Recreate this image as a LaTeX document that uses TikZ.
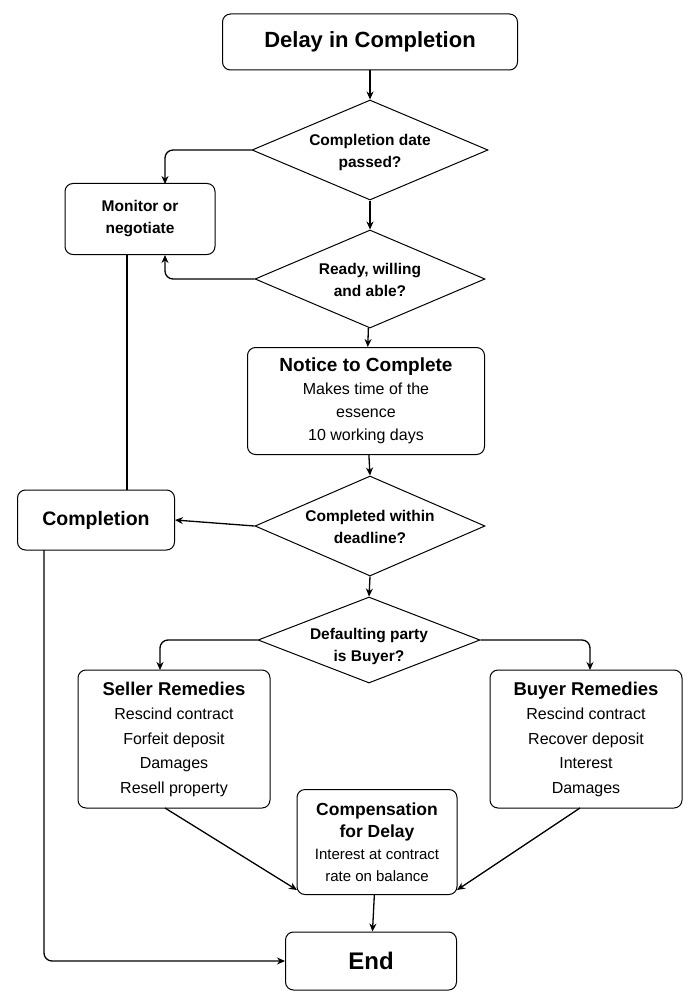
\documentclass[tikz,border=0pt]{standalone}
\usepackage{fontspec}
\setmainfont{Liberation Sans}
\usetikzlibrary{shapes.geometric,arrows.meta}
\begin{document}
\begin{tikzpicture}[x=1pt,y=-1pt,
 box/.style={draw,line width=1pt,rounded corners=8pt,align=center,inner sep=0pt},
 arr/.style={line width=1.3pt,-{Stealth[length=8pt,width=7pt]},rounded corners=8pt},
 ln/.style={line width=1.3pt,rounded corners=8pt}]
\useasboundingbox (0,0) rectangle (695,1008);
\node[box,minimum width=295,minimum height=56,font=\fontsize{22}{26}\selectfont\bfseries] (t) at (370,42) {Delay in Completion};
\node[draw,line width=1pt,diamond,minimum width=236,minimum height=100,inner sep=0pt] (d1) at (370,150) {};
\node[align=center,font=\fontsize{15.5}{22}\selectfont\bfseries] (l1) at (370,152) {Completion date\\passed?};
\node[box,minimum width=150,minimum height=71,font=\fontsize{15.5}{22}\selectfont\bfseries] (m) at (140,219) {Monitor or\\negotiate};
\node[draw,line width=1pt,diamond,minimum width=230,minimum height=98,inner sep=0pt] (d2) at (370,279) {};
\node[align=center,font=\fontsize{15.5}{22}\selectfont\bfseries] (l2) at (370,280) {Ready, willing\\and able?};
\node[box,minimum width=237,minimum height=107,font=\fontsize{16}{23}\selectfont] (n) at (366,401) {{\fontsize{19}{23}\selectfont\bfseries Notice to Complete}\\Makes time of the\\essence\\10 working days};
\node[draw,line width=1pt,diamond,minimum width=230,minimum height=100,inner sep=0pt] (d3) at (370,526) {};
\node[align=center,font=\fontsize{15.5}{22}\selectfont\bfseries] (l3) at (370,527) {Completed within\\deadline?};
\node[box,minimum width=157,minimum height=60,font=\fontsize{19.5}{24}\selectfont\bfseries] (c) at (96,520) {Completion};
\node[draw,line width=1pt,diamond,minimum width=222,minimum height=86,inner sep=0pt] (d4) at (369,640) {};
\node[align=center,font=\fontsize{15.5}{22}\selectfont\bfseries] (l4) at (369,646) {Defaulting party\\is Buyer?};
\node[box,minimum width=192,minimum height=138,font=\fontsize{16}{24.5}\selectfont] (s) at (174,739) {{\fontsize{18.5}{23}\selectfont\bfseries Seller Remedies}\\Rescind contract\\Forfeit deposit\\Damages\\Resell property};
\node[box,minimum width=192,minimum height=138,font=\fontsize{16}{24.5}\selectfont] (b) at (586,739) {{\fontsize{18.5}{23}\selectfont\bfseries Buyer Remedies}\\Rescind contract\\Recover deposit\\Interest\\Damages};
\node[box,minimum width=160,minimum height=105,font=\fontsize{15}{22}\selectfont] (k) at (377,842) {{\fontsize{17.5}{22}\selectfont\bfseries Compensation}\\{\fontsize{17.5}{22}\selectfont\bfseries for Delay}\\Interest at contract\\rate on balance};
\node[box,minimum width=171,minimum height=58,font=\fontsize{24}{28}\selectfont\bfseries] (e) at (371,961) {End};
\draw[arr] (t) -- (d1);
\draw[arr] (d1.west) -| (165,184);
\draw[arr] (d1) -- (d2);
\draw[arr] (d2.west) -| (165,255);
\draw[arr] (d2) -- (n);
\draw[ln] (127,255) -- (127,490);
\draw[arr] (n) -- (d3.north);
\draw[arr] (d3.west) -- (c.east);
\draw[arr] (d3.south) -- (d4.north);
\draw[arr] (d4.west) -| (160,670);
\draw[arr] (d4.east) -| (590,670);
\draw[arr] (165,808) -- (297,890);
\draw[arr] (580,808) -- (457,890);
\draw[arr] (k) -- (e);
\draw[arr] (44,550) |- (e.west);
\end{tikzpicture}
\end{document}
